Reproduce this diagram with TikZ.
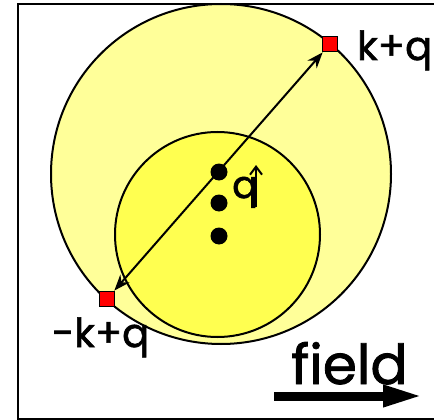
\documentclass[tikz,border=0pt]{standalone}
\usepackage{fontspec}
\setmainfont{Poppins}
\newfontfamily\labfont{Poppins}[FakeBold=1.5]
\usetikzlibrary{arrows.meta}
\definecolor{outery}{RGB}{255,255,153}
\definecolor{innery}{RGB}{255,255,80}
\definecolor{sqred}{RGB}{255,0,0}
\tikzset{
  ring/.style={circle, draw=black, line width=2pt, inner sep=0pt},
  dot/.style={circle, fill=black, minimum size=17pt, inner sep=0pt},
  sq/.style={rectangle, fill=sqred, draw=black, line width=1.8pt, minimum size=15pt, inner sep=0pt},
  lab/.style={font=\labfont\fontsize{40}{44}\selectfont, inner sep=0pt, anchor=base west},
}
\begin{document}
\begin{tikzpicture}[x=1pt,y=-1pt]
\useasboundingbox (0,0) rectangle (434,420);
\draw[line width=2.4pt] (434,4) -- (18,4) -- (18,419) -- (434,419);
\node[ring, fill=outery, minimum size=340pt] (outer) at (221,174) {};
\node[ring, fill=innery, minimum size=205pt] (inner) at (217.5,234.5) {};
\node[dot] (d1) at (219,172) {};
\node[dot] (d2) at (219,203) {};
\node[dot] (d3) at (219,236) {};
\node[sq] (kq) at (330,44) {};
\node[sq] (mkq) at (107,299) {};
\draw[line width=2pt, {Stealth[length=16pt,width=12pt]}-{Stealth[length=16pt,width=12pt]}] (mkq) -- (kq);
\node[lab] (tkq) at (357,60) {k+q};
\node[lab] (tmkq) at (52,347) {-k+q};
\node[lab, font=\labfont\fontsize{38}{42}\selectfont] (tq) at (232,198) {q};
\coordinate (qa1) at (256,207);
\coordinate (qa2) at (256,165);
\draw[line width=2pt, -{Straight Barb[length=8pt,width=12pt]}] (qa1) -- (qa2);
\node[lab, font=\labfont\fontsize{55}{60}\selectfont] (field) at (291,384) {field};
\coordinate (fa1) at (274,396);
\coordinate (fa2) at (423,396);
\draw[line width=9pt, -{Triangle[length=40pt,width=20pt]}] (fa1) -- (fa2);
\end{tikzpicture}
\end{document}
